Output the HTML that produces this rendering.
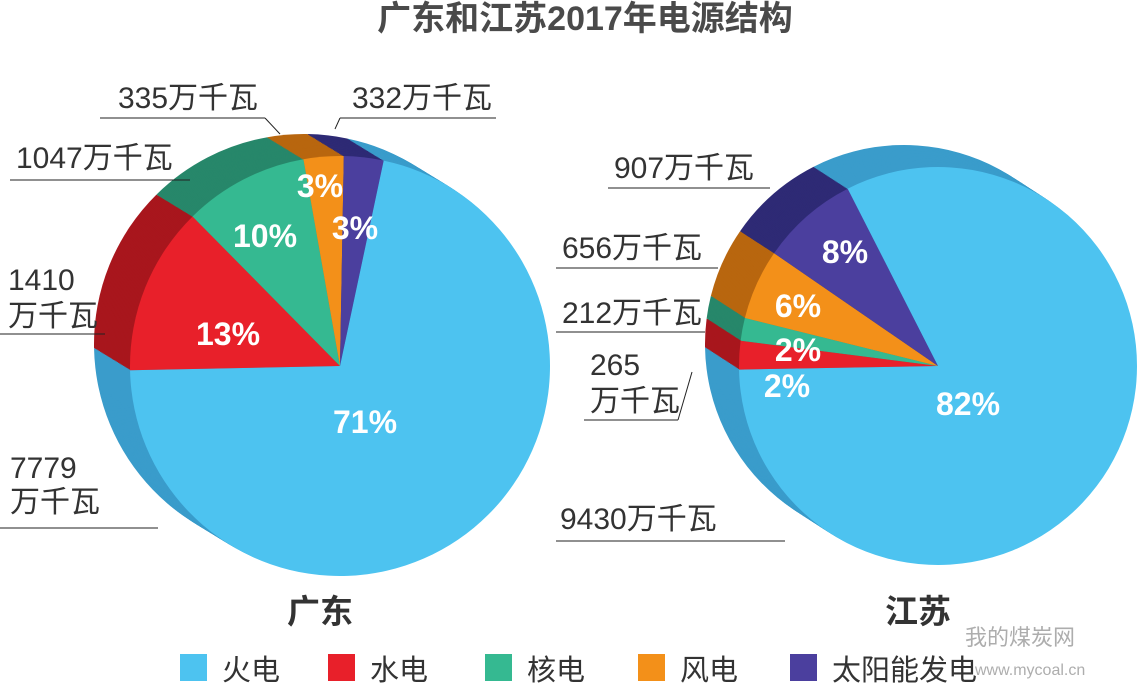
<!DOCTYPE html>
<html><head><meta charset="utf-8"><style>
body{margin:0;background:#fff;}
svg text{font-family:"Liberation Sans","Noto Sans CJK SC",sans-serif;}
</style></head><body>
<svg width="1140" height="687" viewBox="0 0 1140 687" xmlns="http://www.w3.org/2000/svg">
<text x="585" y="30" text-anchor="middle" font-size="34" font-weight="bold" fill="#4a4a4a">广东和江苏2017年电源结构</text>
<g id="pies"></g>
<g id="labels" font-size="30" fill="#333">
<g><text x="352" y="108">332万千瓦</text><line x1="335" y1="129" x2="340" y2="118" stroke="#222"/><line x1="340" y1="118" x2="496" y2="118" stroke="#222"/></g>
<g><text x="118" y="108">335万千瓦</text><line x1="100" y1="118" x2="265" y2="118" stroke="#222"/><line x1="265" y1="118" x2="280" y2="134" stroke="#222"/></g>
<g><text x="16" y="168">1047万千瓦</text><line x1="10" y1="180" x2="190" y2="180" stroke="#222"/></g>
<g><text x="8" y="290">1410</text><text x="8" y="326">万千瓦</text><line x1="0" y1="334" x2="105" y2="334" stroke="#222"/></g>
<g><text x="10" y="478">7779</text><text x="10" y="512">万千瓦</text><line x1="0" y1="528" x2="158" y2="528" stroke="#222"/></g>
<g><text x="614" y="178">907万千瓦</text><line x1="608" y1="188" x2="770" y2="188" stroke="#222"/></g>
<g><text x="562" y="258">656万千瓦</text><line x1="556" y1="268" x2="718" y2="268" stroke="#222"/></g>
<g><text x="562" y="323">212万千瓦</text><line x1="556" y1="332" x2="705" y2="332" stroke="#222"/></g>
<g><text x="590" y="375">265</text><text x="590" y="411">万千瓦</text><line x1="584" y1="420" x2="678" y2="420" stroke="#222"/><line x1="678" y1="420" x2="692" y2="372" stroke="#222"/></g>
<g><text x="560" y="529">9430万千瓦</text><line x1="556" y1="541" x2="785" y2="541" stroke="#222"/></g>
</g>
<text x="320" y="623" text-anchor="middle" font-size="33" font-weight="bold" fill="#333">广东</text>
<text x="918" y="623" text-anchor="middle" font-size="33" font-weight="bold" fill="#333">江苏</text>
<g id="legend" font-size="29" fill="#333"></g>
<g fill="#999" opacity="0.8">
<text x="965" y="645" font-size="22">我的煤炭网</text>
<text x="975" y="675" font-size="16">www.mycoal.cn</text>
</g>
</svg>
<script>
const categories=["火电","水电","核电","风电","太阳能发电"];
const gdValues=[7779,1410,1047,335,332];
const jsValues=[9430,265,212,656,907];
const topColors=["#4dc3f0","#e8202a","#35b991","#f39019","#4b3f9e"];
const sideColors=["#3a9ccb","#a8161d","#27876a","#b8660f","#2e2a75"];
const NS="http://www.w3.org/2000/svg";
const pies=document.getElementById('pies');
function pt(cx,cy,r,a){const t=a*Math.PI/180;return [cx+r*Math.sin(t),cy-r*Math.cos(t)];}
function wedge(cx,cy,r,a0,a1){const p0=pt(cx,cy,r,a0),p1=pt(cx,cy,r,a1);const large=(a1-a0)>180?1:0;
return `M${cx},${cy}L${p0[0]},${p0[1]}A${r},${r} 0 ${large} 1 ${p1[0]},${p1[1]}Z`;}
function drawPie(id,vals,cx,cy,r,start,dx,dy,lblPos){
  const g=document.createElementNS(NS,'g');
  
  
  pies.appendChild(g);
  const tot=vals.reduce((a,b)=>a+b,0);
  const angs=[];let a=start;
  vals.forEach(v=>{const s=v/tot*360;angs.push([a,a+s]);a+=s;});
  const steps=30;
  for(let k=steps;k>=1;k--){
    const ox=dx*k/steps,oy=dy*k/steps;
    vals.forEach((v,i)=>{const p=document.createElementNS(NS,'path');
      p.setAttribute('d',wedge(cx+ox,cy+oy,r,angs[i][0],angs[i][1]));
      p.setAttribute('fill',sideColors[i]);
      
      
      g.appendChild(p);});
  }
  vals.forEach((v,i)=>{const p=document.createElementNS(NS,'path');
    p.setAttribute('d',wedge(cx,cy,r,angs[i][0],angs[i][1]));
    p.setAttribute('fill',topColors[i]);
    
    
    g.appendChild(p);});
  vals.forEach((v,i)=>{const frac=v/tot;
    const t=document.createElementNS(NS,'text');
    t.setAttribute('x',lblPos[i][0]);t.setAttribute('y',lblPos[i][1]+11);
    t.setAttribute('text-anchor','middle');t.setAttribute('font-size','32');
    t.setAttribute('font-weight','bold');t.setAttribute('fill','#fff');
    t.textContent=Math.round(frac*100)+'%';
    
    
    g.appendChild(t);});
}
const gdLabelPos=[[365,422],[228,334],[265,236],[320,186],[355,228]];
const jsLabelPos=[[968,404],[787,386],[798,350],[798,306],[845,252]];
drawPie('gd',gdValues,340,366,210,12,-36,-22,gdLabelPos);
drawPie('js',jsValues,938,366,199,-27,-34,-22,jsLabelPos);
const leg=document.getElementById('legend');
const lx=[180,328,485,638,790];
categories.forEach((c,i)=>{
  const r=document.createElementNS(NS,'rect');
  r.setAttribute('x',lx[i]);r.setAttribute('y',654);r.setAttribute('width',27);r.setAttribute('height',27);
  r.setAttribute('fill',topColors[i]);
  
  
  leg.appendChild(r);
  const t=document.createElementNS(NS,'text');
  t.setAttribute('x',lx[i]+42);t.setAttribute('y',680);t.textContent=c;
  
  
  leg.appendChild(t);
});
</script>
</body></html>
